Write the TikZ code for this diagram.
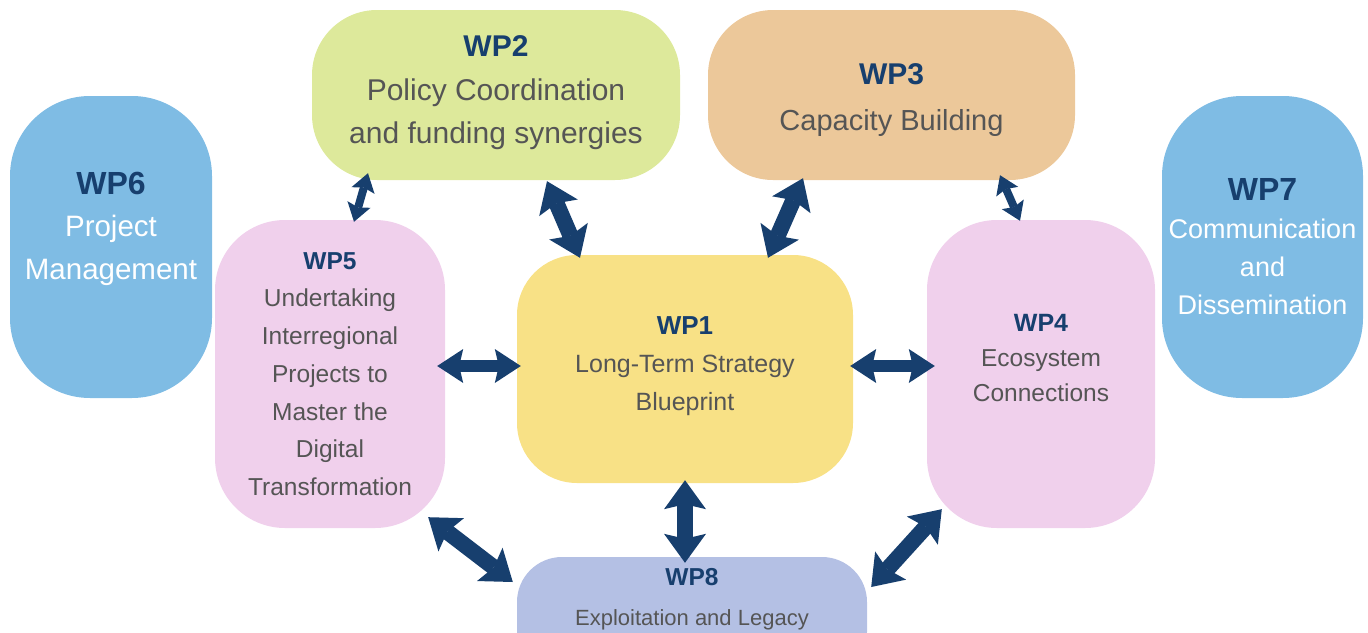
\documentclass[tikz,border=0pt]{standalone}
\usepackage{fontspec}
\setmainfont{Liberation Sans}
\usetikzlibrary{arrows.meta}

\definecolor{wpnavy}{HTML}{173F6E}
\definecolor{wptext}{HTML}{555555}
\definecolor{wpgreen}{HTML}{DDE99B}
\definecolor{wptan}{HTML}{ECC89A}
\definecolor{wpblue}{HTML}{7FBCE4}
\definecolor{wppink}{HTML}{F0D0EC}
\definecolor{wpyellow}{HTML}{F8E186}
\definecolor{wplilac}{HTML}{B4C0E4}

% bold navy heading of a work package
\newcommand{\wptitle}[2]{{\fontsize{#1}{#1}\selectfont\bfseries\color{wpnavy}#2}}

\begin{document}
\begin{tikzpicture}[
            x = 1pt, y = -1pt, % pixel units of the layout
            wp/.style = {inner sep = 0pt, align = center, text = wptext},
            thinarrow/.style = {draw = wpnavy, line width = 8pt,
                arrows = {Stealth[length=18pt,width=24pt,inset=3pt,line width=0pt]-Stealth[length=18pt,width=24pt,inset=3pt,line width=0pt]}},
            midarrow/.style = {draw = wpnavy, line width = 12pt,
                arrows = {Stealth[length=26pt,width=34pt,inset=4pt,line width=0pt]-Stealth[length=26pt,width=34pt,inset=4pt,line width=0pt]}},
            bigarrow/.style = {draw = wpnavy, line width = 16pt,
                arrows = {Stealth[length=29pt,width=42pt,inset=5pt,line width=0pt]-Stealth[length=29pt,width=42pt,inset=5pt,line width=0pt]}}
        ]

        \path[use as bounding box, clip] (0,0) rectangle (1368,632);

        % outer packages
        \node[wp, fill = wpblue, text = white, minimum width = 202pt, minimum height = 302pt,
            rounded corners = 80pt, font = \fontsize{29.5}{42.5}\selectfont]
            (wp6) at (111,247) {\wptitle{32}{WP6}\\Project\\Management\\[0pt]};
        \node[wp, fill = wpblue, text = white, minimum width = 201pt, minimum height = 302pt,
            rounded corners = 80pt, font = \fontsize{27}{38}\selectfont]
            (wp7) at (1262.5,247) {\wptitle{32}{WP7}\\Communication\\and\\Dissemination};

        % top row
        \node[wp, fill = wpgreen, minimum width = 368pt, minimum height = 170pt,
            rounded corners = 65pt, font = \fontsize{30}{43.5}\selectfont]
            (wp2) at (496,95) {\wptitle{30}{WP2}\\Policy Coordination\\and funding synergies\\[-33pt]};
        \node[wp, fill = wptan, minimum width = 367pt, minimum height = 170pt,
            rounded corners = 65pt, font = \fontsize{29}{46}\selectfont]
            (wp3) at (891.5,95) {\wptitle{30}{\rule{0pt}{32pt}WP3}\\Capacity Building};

        % middle row
        \node[wp, fill = wppink, minimum width = 230pt, minimum height = 308pt,
            rounded corners = 70pt, font = \fontsize{24.5}{37.7}\selectfont]
            (wp5) at (330,374) {\wptitle{24.5}{WP5}\\Undertaking\\Interregional\\Projects to\\Master the\\Digital\\Transformation};
        \node[wp, fill = wpyellow, minimum width = 336pt, minimum height = 228pt,
            rounded corners = 60pt, font = \fontsize{25}{38}\selectfont]
            (wp1) at (685,369) {\wptitle{26}{WP1}\\Long-Term Strategy\\Blueprint\\[-28pt]};
        \node[wp, fill = wppink, minimum width = 228pt, minimum height = 308pt,
            rounded corners = 70pt, font = \fontsize{24.5}{35}\selectfont]
            (wp4) at (1041,374) {\wptitle{25}{WP4}\\Ecosystem\\Connections\\[-2pt]};

        % bottom
        \node[wp, fill = wplilac, minimum width = 350pt, minimum height = 120pt,
            rounded corners = 45pt, font = \fontsize{22}{40}\selectfont]
            (wp8) at (692,617) {\wptitle{24.5}{WP8}\\Exploitation and Legacy\\[0pt]};

        % links
        \draw[thinarrow] ([shift={(-128,-7)}]wp2.south) -- ([shift={(24,2)}]wp5.north);
        \draw[bigarrow] ([shift={(51,1)}]wp2.south) -- ([shift={(-105,3)}]wp1.north);
        \draw[bigarrow] ([shift={(-88.5,-2)}]wp3.south) -- ([shift={(83,3)}]wp1.north);
        \draw[thinarrow] ([shift={(108.5,-5)}]wp3.south) -- ([shift={(-21,1)}]wp4.north);
        \draw[midarrow] ([shift={(-8,-8)}]wp5.east) -- ([shift={(4,-3)}]wp1.west);
        \draw[midarrow] ([shift={(-3,-3)}]wp1.east) -- ([shift={(8,-8)}]wp4.west);
        \draw[bigarrow] ([shift={(0,-3)}]wp1.south) -- ([shift={(-7,6)}]wp8.north);
        \draw[bigarrow] ([shift={(-17,-11)}]wp5.south east) -- ([shift={(-4,-35)}]wp8.west);
        \draw[bigarrow] ([shift={(15,-19)}]wp4.south west) -- ([shift={(4,-30)}]wp8.east);
\end{tikzpicture}
\end{document}
